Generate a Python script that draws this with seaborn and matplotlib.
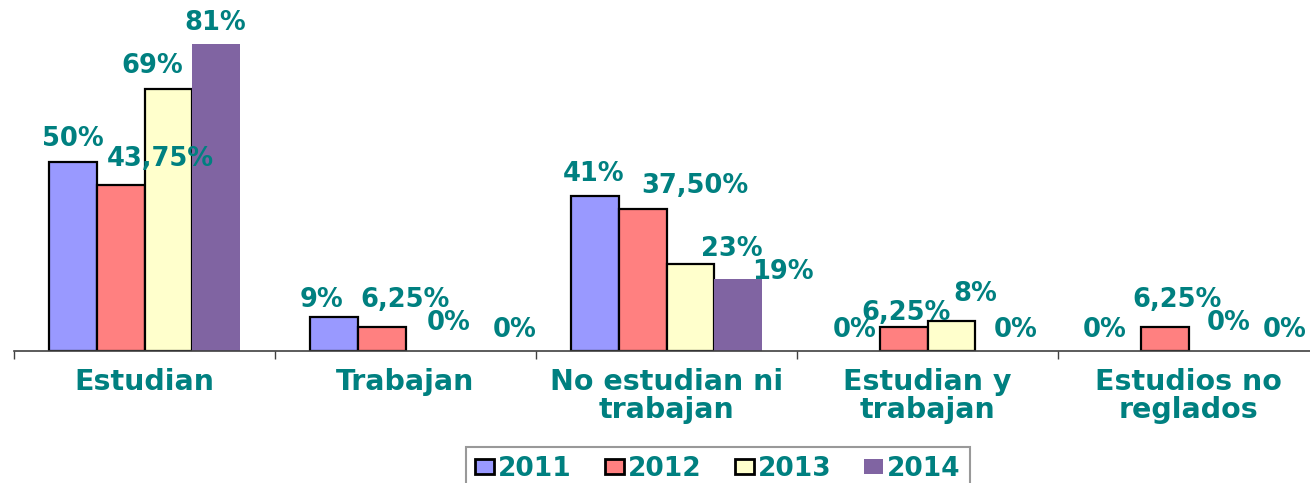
import matplotlib
matplotlib.use("Agg")
import matplotlib.pyplot as plt
import matplotlib.patches as mpatches
import numpy as np
import pandas as pd
import seaborn as sns

# Situación de los alumnos por año (porcentaje)
categories = ["Estudian", "Trabajan", "No estudian ni\ntrabajan",
              "Estudian y\ntrabajan", "Estudios no\nreglados"]
years = ["2011", "2012", "2013", "2014"]
pct_2011 = [50, 9, 41, 0, 0]
pct_2012 = [43.75, 6.25, 37.5, 6.25, 6.25]
pct_2013 = [69, 0, 23, 8, 0]
pct_2014 = [81, 0, 19, 0, 0]

series = {"2011": pct_2011, "2012": pct_2012, "2013": pct_2013, "2014": pct_2014}

# Estilo
bar_colors = ["#9999FF", "#FF8080", "#FFFFCC", "#8064A2"]
edge_colors = ["black", "black", "black", "none"]
teal = "#008080"

# Desplazamiento (px) de cada etiqueta respecto al centro superior de su barra
label_nudge = {
    "2011": [(0, 23), (-12, 17), (-1, 22), (-1, 21), (-12, 21)],
    "2012": [(40, 26), (24, 27), (52, 23), (3, 14), (13, 27)],
    "2013": [(-16, 23), (19, 28), (41, 15), (24, 27), (16, 28)],
    "2014": [(-1, 21), (37, 21), (44, 7), (16, 21), (24, 21)],
}

df = pd.DataFrame(
    [(c, y, v) for y in years for c, v in zip(categories, series[y])],
    columns=["categoria", "año", "porcentaje"],
)

sns.set_theme(style="white")
plt.rcParams["font.family"] = ["DejaVu Sans"]

W, H = 1310, 483
fig = plt.figure(figsize=(W / 100, H / 100), dpi=100)
fig.patch.set_facecolor("white")
ax = fig.add_axes([14 / W, (H - 351) / H, 1305 / W, 351 / H])

sns.barplot(data=df, x="categoria", y="porcentaje", hue="año",
            order=categories, hue_order=years, palette=bar_colors,
            width=0.735, saturation=1, errorbar=None, legend=False, ax=ax)


def fmt(v):
    if float(v).is_integer():
        return f"{int(v)}%"
    return f"{v:.2f}".replace(".", ",") + "%"


for i, (cont, y) in enumerate(zip(ax.containers, years)):
    for j, (patch, v) in enumerate(zip(cont.patches, series[y])):
        if v > 0 and edge_colors[i] != "none":
            patch.set_edgecolor(edge_colors[i])
            patch.set_linewidth(1.6)
        else:
            patch.set_linewidth(0)
        dx, dy = label_nudge[y][j]
        x = patch.get_x() + patch.get_width() / 2
        ax.annotate(fmt(v), (x, patch.get_height()), xytext=(dx, dy),
                    textcoords="offset pixels", ha="center", va="center",
                    color=teal, fontsize=18.5, fontweight="bold",
                    annotation_clip=False)

ax.set_xlim(-0.5, len(categories) - 0.5)
ax.set_ylim(0, 351 / 3.79)
ax.set_xlabel("")
ax.set_ylabel("")
ax.set_yticks([])

for s in ["left", "right", "top"]:
    ax.spines[s].set_visible(False)
ax.spines["bottom"].set_color("#404040")
ax.spines["bottom"].set_linewidth(1.2)

ax.set_xticks(np.arange(len(categories) + 1) - 0.5, minor=True)
ax.tick_params(axis="x", which="minor", bottom=True, length=5.5,
               width=1.0, color="#404040", direction="out")
ax.tick_params(axis="x", which="major", bottom=False, length=0, pad=12)
ax.set_xticks(np.arange(len(categories)))
ax.set_xticklabels(categories, fontsize=20.5, fontweight="bold",
                   color=teal, linespacing=1.0)

handles = [mpatches.Patch(facecolor=fc, edgecolor=ec, linewidth=2.0)
           for fc, ec in zip(bar_colors, edge_colors)]
leg = fig.legend(handles, years, loc="center",
                 bbox_to_anchor=(718 / W, 14 / H), ncol=4, frameon=True,
                 prop={"size": 19, "weight": "bold"}, labelcolor=teal,
                 handlelength=0.72, handleheight=0.5, handletextpad=0.15,
                 columnspacing=1.25, borderpad=0.35, borderaxespad=0,
                 fancybox=False, edgecolor="#808080")
leg.get_frame().set_linewidth(1.5)

fig.savefig("out.png", dpi=100, facecolor="white")
